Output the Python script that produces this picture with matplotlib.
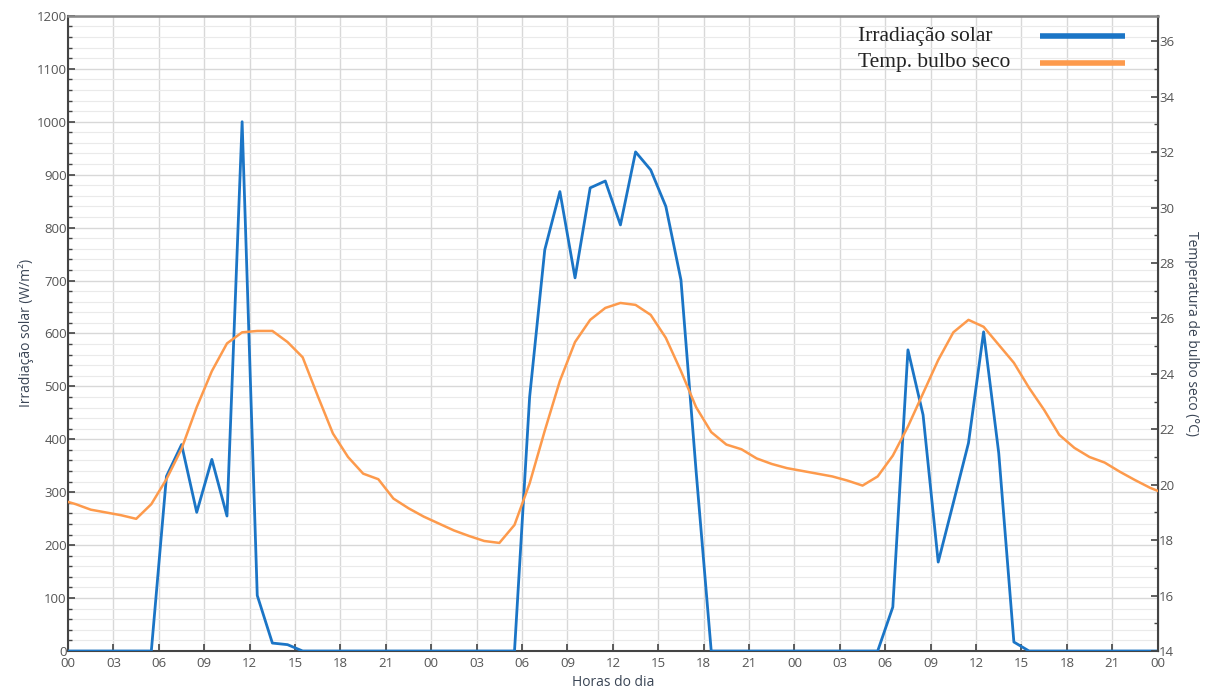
import numpy as np
import matplotlib
matplotlib.use('Agg')
import matplotlib.pyplot as plt
from matplotlib.ticker import MultipleLocator, FuncFormatter

# hourly means plotted at the half hour, plus the two edge values (00h and 72h)
hours = np.concatenate([[0.0], np.arange(72) + 0.5, [72.0]])

irradiance = [0,
              # day 1
              0, 0, 0, 0, 0, 0, 330, 390, 262, 362, 255, 1000,
              105, 15, 12, 0, 0, 0, 0, 0, 0, 0, 0, 0,
              # day 2
              0, 0, 0, 0, 0, 0, 480, 758, 868, 705, 875, 888,
              805, 943, 909, 840, 701, 340, 0, 0, 0, 0, 0, 0,
              # day 3
              0, 0, 0, 0, 0, 0, 83, 569, 446, 168, 280, 393,
              603, 374, 17, 0, 0, 0, 0, 0, 0, 0, 0, 0,
              0]

temperature = [19.38,
               # day 1
               19.3, 19.1, 19.0, 18.9, 18.77, 19.3, 20.2, 21.3, 22.8, 24.1, 25.1, 25.5,
               25.55, 25.55, 25.15, 24.6, 23.2, 21.85, 21.0, 20.4, 20.2, 19.5, 19.15, 18.85,
               # day 2
               18.6, 18.35, 18.15, 17.97, 17.9, 18.55, 20.05, 21.95, 23.75, 25.15, 25.95, 26.38,
               26.56, 26.49, 26.13, 25.3, 24.1, 22.8, 21.9, 21.45, 21.28, 20.95, 20.75, 20.6,
               # day 3
               20.5, 20.4, 20.3, 20.15, 19.97, 20.3, 21.05, 22.1, 23.3, 24.5, 25.5, 25.95,
               25.7, 25.05, 24.4, 23.5, 22.7, 21.8, 21.33, 21.0, 20.8, 20.47, 20.17, 19.89,
               19.78]

labels = ['Irradiação solar', 'Temp. bulbo seco']
blue = '#1b75c6'
orange = '#fd9a4c'
tick_grey = '#555555'
label_col = '#3a4555'

plt.rcParams['font.family'] = ['Open Sans', 'DejaVu Sans']

fig = plt.figure(figsize=(12.16, 6.93), dpi=100)
ax = fig.add_axes([0.056, 0.0606, 0.896, 0.9165])
ax2 = ax.twinx()

l1, = ax.plot(hours, irradiance, color=blue, lw=2.0, zorder=3)
l2, = ax2.plot(hours, temperature, color=orange, lw=1.8, zorder=3)

ax.set_xlim(0, 72)
ax.set_ylim(0, 1200)
ax2.set_ylim(14, 36.92)

ax.xaxis.set_major_locator(MultipleLocator(3))
ax.xaxis.set_major_formatter(FuncFormatter(lambda v, p: f'{int(v) % 24:02d}'))
ax.yaxis.set_major_locator(MultipleLocator(100))
ax.yaxis.set_minor_locator(MultipleLocator(20))
ax2.yaxis.set_major_locator(MultipleLocator(2))
ax2.yaxis.set_minor_locator(MultipleLocator(1))

ax.grid(which='major', color='#d8d8d8', lw=1.0)
ax.grid(which='minor', axis='y', color='#eaeaea', lw=0.8)
ax.set_axisbelow(True)

for a in (ax, ax2):
    a.tick_params(which='both', direction='in', colors='#444444', labelcolor=tick_grey, labelsize=9.5)
    a.tick_params(which='major', length=5, width=1.2)
    a.tick_params(which='minor', length=3, width=1.0)
ax.tick_params(axis='x', pad=4)
ax2.tick_params(axis='y', pad=1)
ax.tick_params(axis='y', pad=1)

for side in ('left', 'bottom'):
    ax.spines[side].set_color('#444444')
    ax.spines[side].set_linewidth(1.5)
ax2.spines['right'].set_color('#444444')
ax2.spines['right'].set_linewidth(1.5)
ax2.spines['top'].set_color('#888888')
ax2.spines['top'].set_linewidth(1.8)
ax2.spines['left'].set_visible(False)
ax2.spines['bottom'].set_visible(False)

ax.set_xlabel('Horas do dia', fontsize=10, color=label_col, labelpad=4)
ax.set_ylabel('Irradiação solar (W/m²)', fontsize=10, color=label_col, labelpad=2)
ax2.set_ylabel('Temperatura de bulbo seco (°C)', fontsize=10, color=label_col,
               rotation=270, labelpad=18)

# legend: left-aligned serif labels with the line sample on the right
legend_rows = [(0.968, l1), (0.926, l2)]
for (row_y, line), text in zip(legend_rows, labels):
    ax2.text(0.725, row_y, text, transform=ax.transAxes, ha='left', va='center',
             family='Liberation Serif', fontsize=15.5, color='#222222', zorder=5)
    ax2.plot([0.892, 0.970], [row_y, row_y], transform=ax.transAxes, color=line.get_color(),
             lw=4, solid_capstyle='butt', clip_on=False, zorder=5)

fig.savefig('out.png', dpi=100)
